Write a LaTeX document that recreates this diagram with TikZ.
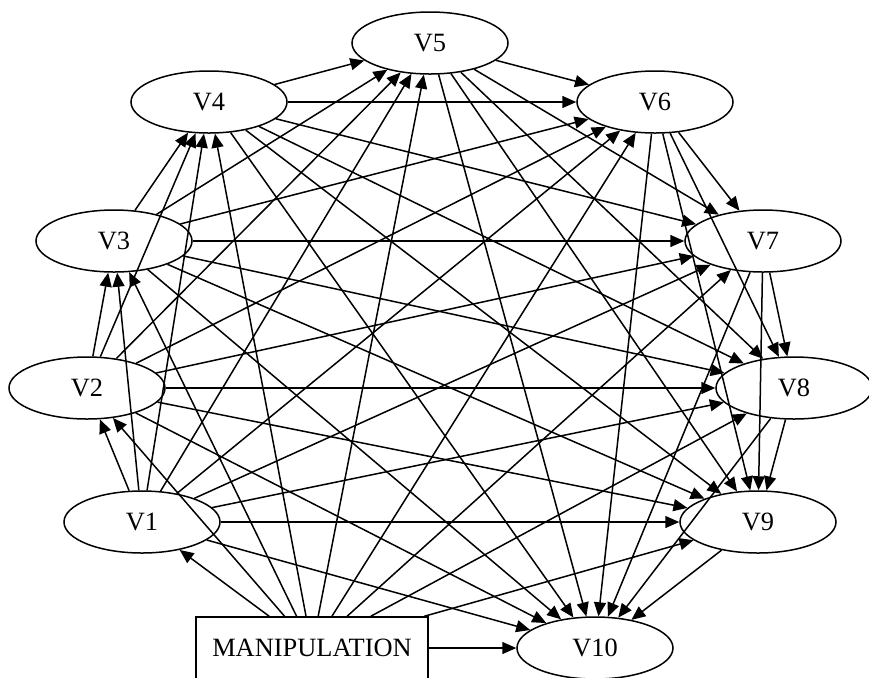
\documentclass[tikz,border=0pt]{standalone}
\usepackage{fontspec}
\setmainfont{Liberation Serif}
\usetikzlibrary{arrows.meta,shapes.geometric}

\tikzset{
  var/.style={ellipse,draw,line width=0.75pt,minimum width=78pt,minimum height=31pt,inner sep=0pt},
  manip/.style={rectangle,draw,line width=0.75pt,minimum width=116pt,minimum height=31pt,inner sep=0pt},
  edge/.style={line width=0.75pt,-{Triangle[length=7pt,width=6pt]}}
}

\begin{document}
\begin{tikzpicture}[x=0.5pt,y=-0.5pt,font=\fontsize{13.2}{15}\selectfont]

\useasboundingbox (0,0) rectangle (869,677);

%Variabili
\begin{scope}
\node[var] (V1) at (142,522) {V1};
\node[var] (V2) at (87,388) {V2};
\node[var] (V3) at (114,241) {V3};
\node[var] (V4) at (209,102) {V4};
\node[var] (V5) at (430,43) {V5};
\node[var] (V6) at (655,102) {V6};
\node[var] (V7) at (763,241) {V7};
\node[var] (V8) at (794,388) {V8};
\node[var] (V9) at (758,522) {V9};
\node[var] (V10) at (595,648) {V10};

\node[manip] (M) at (312,648) {MANIPULATION};
\end{scope}

%Archi
\foreach \i in {1,...,9} {
  \pgfmathtruncatemacro{\k}{\i+1}
  \foreach \j in {\k,...,10}
    \draw[edge] (V\i) -- (V\j);
}
\foreach \j in {1,...,10}
  \draw[edge] (M) -- (V\j);

\end{tikzpicture}
\end{document}
